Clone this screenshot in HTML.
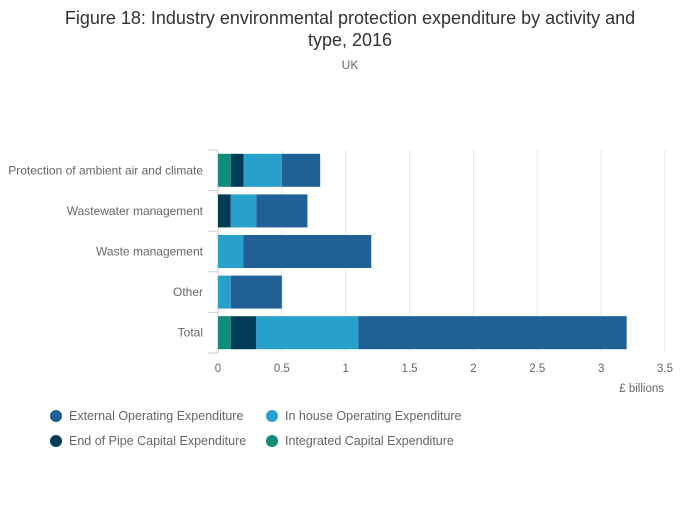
<!DOCTYPE html>
<html><head><meta charset="utf-8"><style>
body{margin:0;background:#fff;font-family:"Liberation Sans",sans-serif;}
svg text{font-family:"Liberation Sans",sans-serif;}
</style></head><body>
<svg id="chart" width="700" height="502">
<text x="350" y="24" text-anchor="middle" font-size="18" fill="#333">Figure 18: Industry environmental protection expenditure by activity and</text>
<text x="350" y="46" text-anchor="middle" font-size="18" fill="#333">type, 2016</text>
<text x="350" y="69" text-anchor="middle" font-size="12" fill="#666">UK</text>
<g id="grid"></g><g id="bars"></g><g id="axes"></g>
<text x="664" y="392" text-anchor="end" font-size="11.5" fill="#666">£ billions</text>
<g id="legend"></g>
</svg>
<script>
const categories=["Protection of ambient air and climate","Wastewater management","Waste management","Other","Total"];
const seriesNames=["Integrated Capital Expenditure","End of Pipe Capital Expenditure","In house Operating Expenditure","External Operating Expenditure"];
const integrated=[0.1,0,0,0,0.1];
const endOfPipe=[0.1,0.1,0,0,0.2];
const inHouse=[0.3,0.2,0.2,0.1,0.8];
const external=[0.3,0.4,1.0,0.4,2.1];
const xTicks=[0,0.5,1,1.5,2,2.5,3,3.5];
const colors=["#118c7b","#003c57","#27a0cc","#206095"];
const NS="http://www.w3.org/2000/svg";
const x0=218,x1=665,xMax=3.5,yTop=150,bandH=40.6;
const xs=v=>x0+v/xMax*(x1-x0);
const yc=i=>yTop+bandH*(i+0.5);
function mk(t,a,p){const e=document.createElementNS(NS,t);for(const k in a)e.setAttribute(k,a[k]);p.appendChild(e);return e;}
const grid=document.getElementById('grid'),bars=document.getElementById('bars'),axes=document.getElementById('axes'),legend=document.getElementById('legend');
xTicks.forEach(t=>{
 const l=mk('line',{x1:xs(t),x2:xs(t),y1:yTop,y2:yTop+bandH*5,stroke:t===0?'#ccc':'#e6e6e6'},grid);
 
 
 const tx=mk('text',{x:xs(t),y:372,'text-anchor':'middle','font-size':11.5,fill:'#666'},axes);
 tx.textContent=String(t);
 
 
});
for(let i=0;i<=5;i++){
 const l=mk('line',{x1:x0-10,x2:x0,y1:yTop+bandH*i,y2:yTop+bandH*i,stroke:'#ccc'},axes);
 
 
}
const series=[integrated,endOfPipe,inHouse,external];
categories.forEach((c,i)=>{
 const tx=mk('text',{x:203,y:yc(i)+4,'text-anchor':'end','font-size':12,fill:'#666'},axes);
 tx.textContent=c;
 
 
 let acc=0;
 series.forEach((s,j)=>{
  const v=s[i];if(v<=0)return;
  const r=mk('rect',{x:xs(acc),y:yc(i)-16.5,width:xs(acc+v)-xs(acc),height:33,fill:colors[j]},bars);
  
  
  acc+=v;
 });
});
const leg=[[3,56,416],[2,272,416],[1,56,441],[0,272,441]];
leg.forEach(([k,x,y])=>{
 const g=mk('g',{},legend);
 
 
 mk('circle',{cx:x,cy:y,r:6,fill:colors[k]},g);
 const t=mk('text',{x:x+13,y:y+4,'font-size':12.5,fill:'#666'},g);
 t.textContent=seriesNames[k];
});
</script>
</body></html>
